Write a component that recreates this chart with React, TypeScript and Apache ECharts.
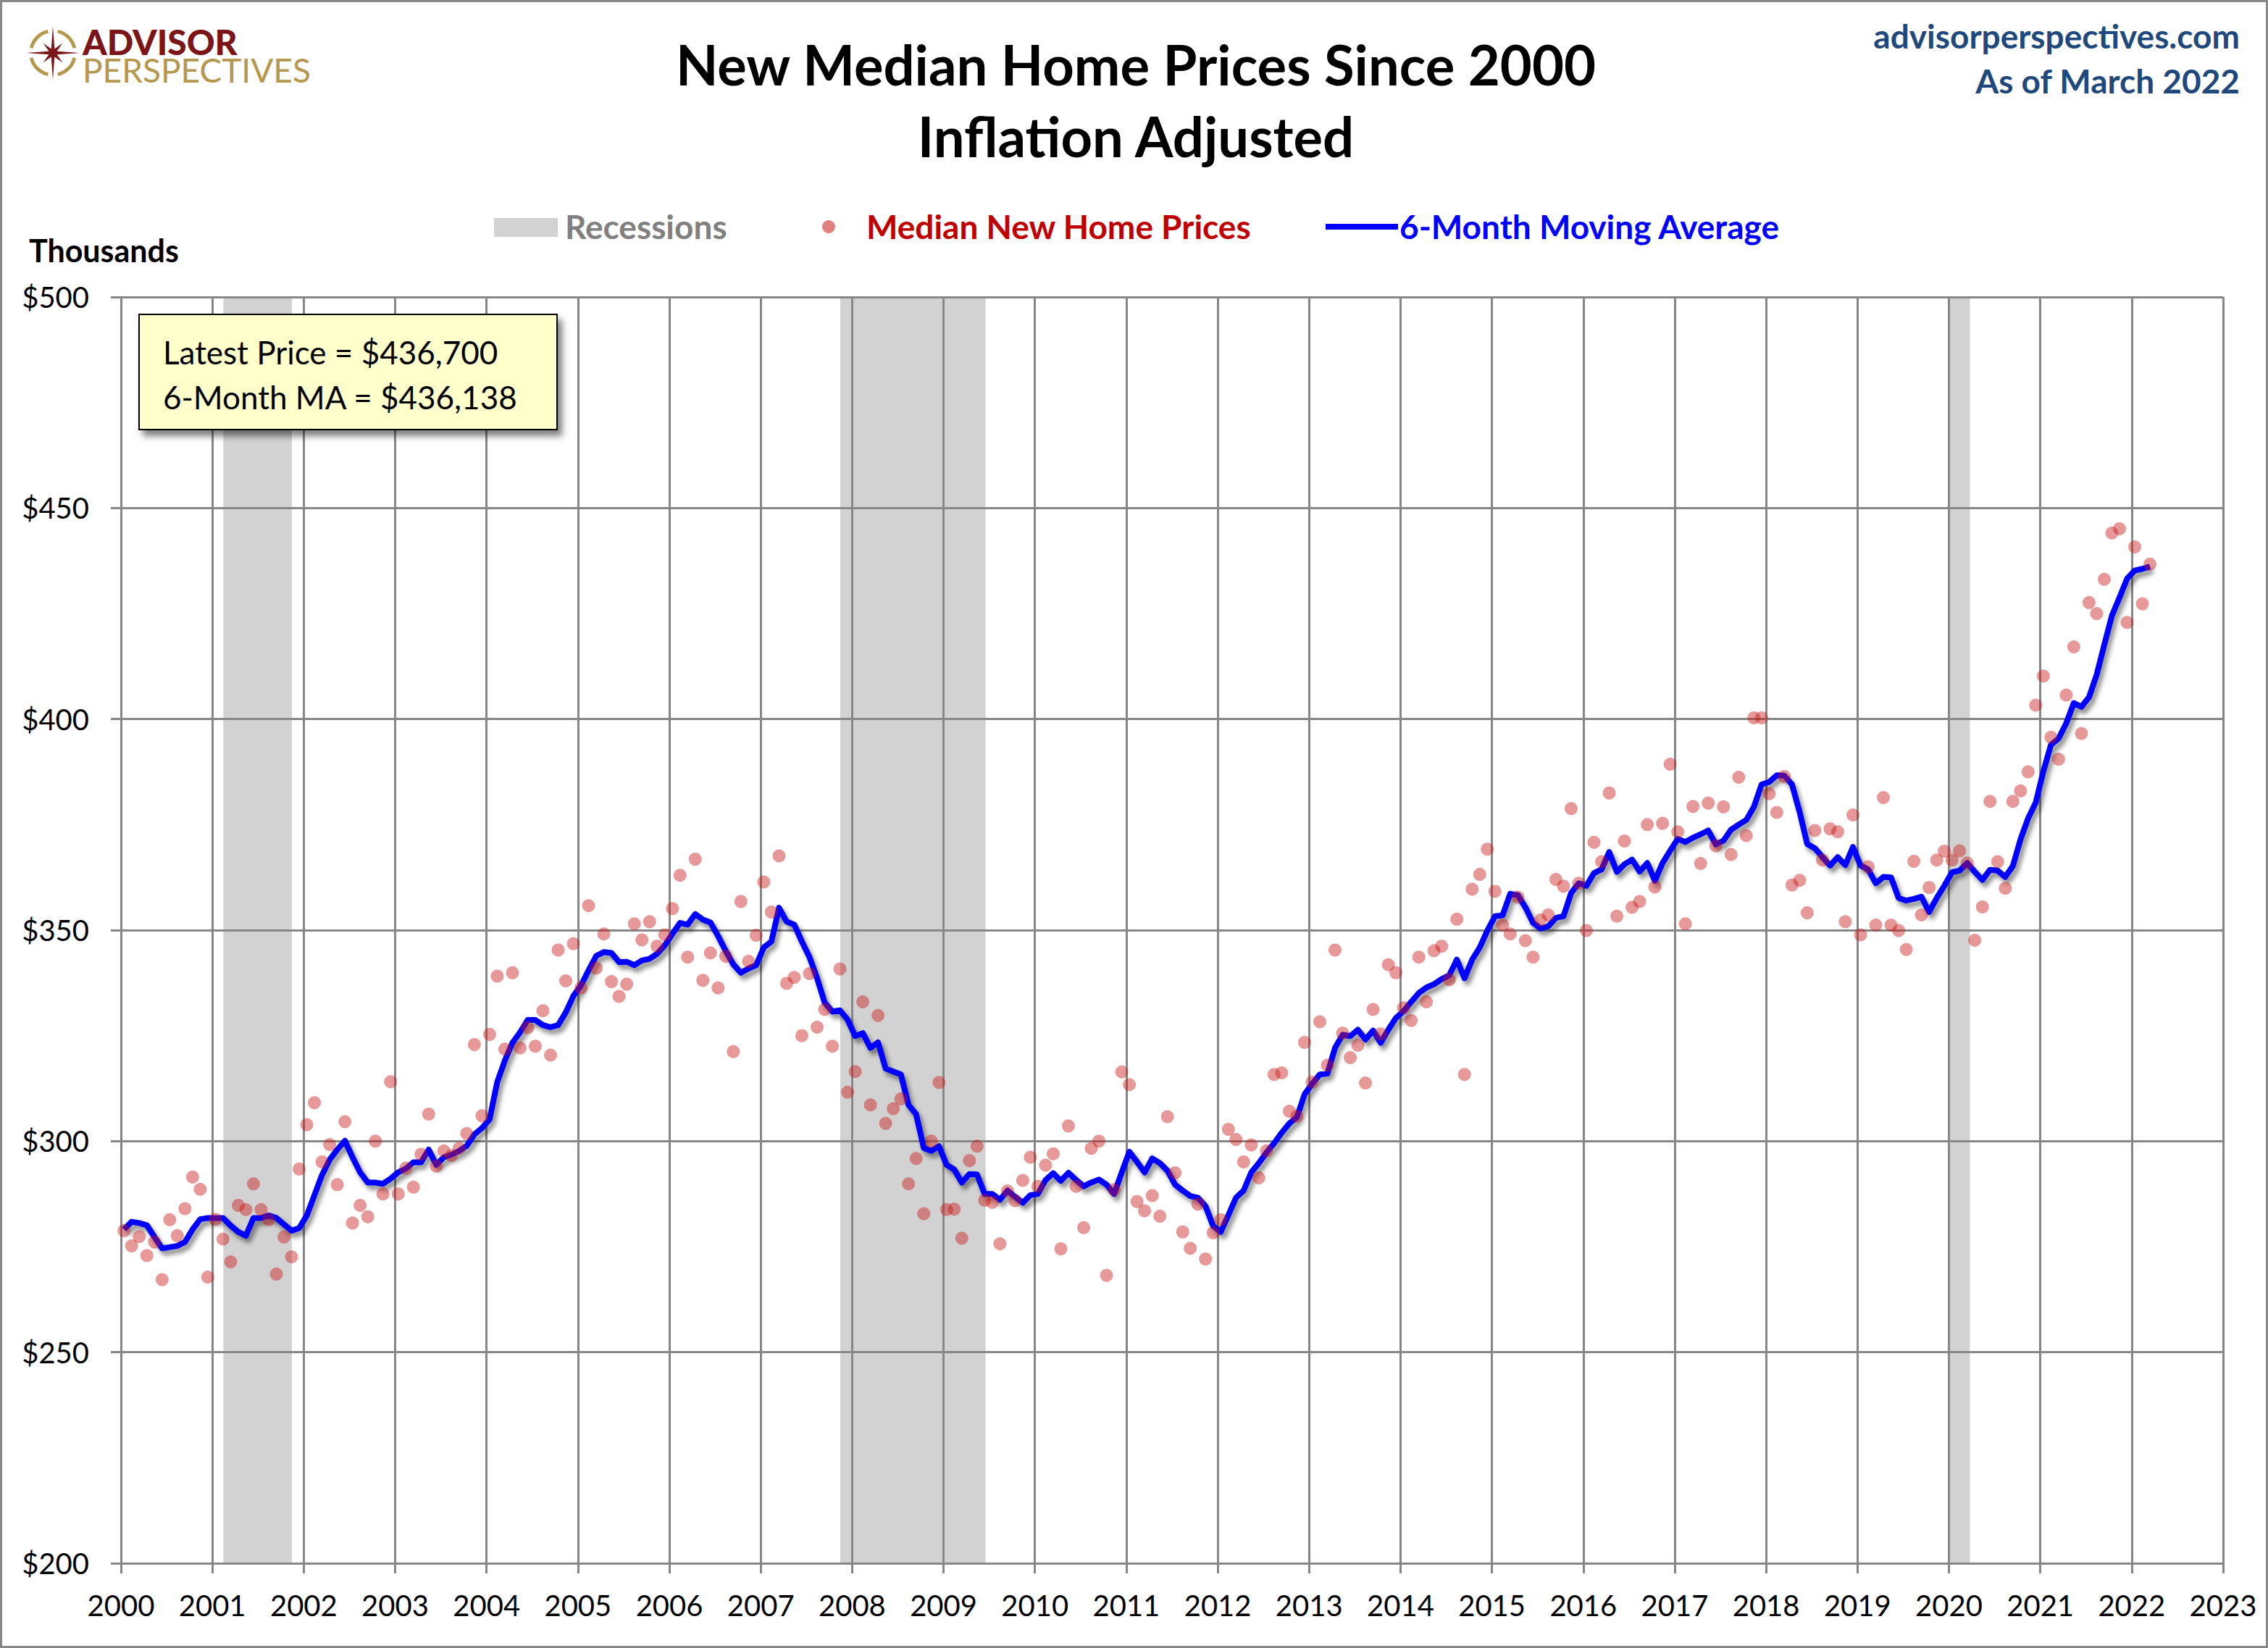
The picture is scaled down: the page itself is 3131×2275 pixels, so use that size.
import React, { useEffect, useRef } from 'react'
import * as echarts from 'echarts'

// monthly series, Jan 2000 .. Mar 2022, thousands of dollars (inflation adjusted)
const startYear = 2000

const medianPrice = [
  278.8, 275.2, 277.4, 272.9, 276.1, 267.2, 281.4, 277.6, 284.0, 291.5, 288.6, 267.8, // 2000
  281.5, 276.8, 271.4, 284.8, 283.8, 289.9, 283.8, 281.4, 268.5, 277.3, 272.6, 293.4, // 2001
  303.9, 309.1, 295.1, 299.2, 289.7, 304.6, 280.6, 284.8, 282.1, 300.0, 287.5, 314.1, // 2002
  287.5, 293.6, 289.1, 296.9, 306.4, 294.1, 297.7, 296.6, 298.3, 301.8, 322.9, 306.0, // 2003
  325.3, 339.1, 321.8, 339.9, 322.1, 326.9, 322.5, 330.9, 320.4, 345.3, 338.0, 346.8, // 2004
  336.3, 355.8, 341.0, 349.1, 337.8, 334.3, 337.2, 351.5, 347.7, 352.0, 346.2, 348.9, // 2005
  355.1, 363.0, 343.6, 366.8, 338.1, 344.6, 336.3, 343.8, 321.2, 356.8, 342.6, 348.8, // 2006
  361.4, 354.3, 367.6, 337.4, 338.8, 325.0, 339.7, 327.0, 331.2, 322.5, 340.8, 311.6, // 2007
  316.5, 333.0, 308.6, 329.8, 304.2, 307.7, 310.0, 289.9, 295.9, 282.8, 300.0, 313.9, // 2008
  283.8, 283.9, 277.0, 295.4, 298.8, 286.0, 285.5, 275.7, 288.2, 285.9, 290.7, 296.2, // 2009
  289.3, 294.3, 297.0, 274.5, 303.6, 289.3, 279.5, 298.3, 300.0, 268.2, 288.5, 316.4, // 2010
  313.4, 285.7, 283.5, 287.1, 282.2, 305.8, 292.5, 278.5, 274.6, 285.1, 272.1, 278.3, // 2011
  281.4, 302.8, 300.4, 295.1, 299.1, 291.3, 297.7, 315.8, 316.2, 307.1, 305.9, 323.4, // 2012
  314.0, 328.3, 318.0, 345.3, 325.6, 319.8, 322.7, 313.8, 331.2, 325.4, 341.8, 339.9, // 2013
  331.6, 328.6, 343.6, 333.0, 345.1, 346.2, 338.3, 352.6, 315.8, 359.7, 363.2, 369.2, // 2014
  359.2, 351.2, 349.1, 357.8, 347.5, 343.6, 352.4, 353.6, 362.0, 360.4, 378.8, 361.1, // 2015
  349.9, 370.8, 366.2, 382.5, 353.3, 371.1, 355.4, 356.8, 375.0, 360.2, 375.3, 389.3, // 2016
  373.3, 351.5, 379.3, 365.8, 380.1, 370.0, 379.2, 367.9, 386.2, 372.4, 400.3, 400.3, // 2017
  382.3, 377.9, 386.4, 360.7, 361.8, 354.1, 373.6, 366.6, 374.0, 373.3, 352.0, 377.3, // 2018
  348.9, 365.0, 351.2, 381.4, 351.2, 349.9, 345.4, 366.3, 353.6, 360.1, 366.6, 368.7, // 2019
  366.6, 368.8, 365.9, 347.6, 355.5, 380.5, 366.2, 359.9, 380.5, 383.0, 387.5, 403.3, // 2020
  410.2, 395.7, 390.5, 405.7, 417.1, 396.6, 427.6, 425.0, 433.1, 444.1, 445.1, 422.9, // 2021
  440.8, 427.3, 436.7, // 2022
]

const movingAverage = [
  279.1, 280.9, 280.6, 280.1, 277.3, 274.6, 274.9, 275.2, 276.1, 279.1, 281.5, 281.8, // 2000
  281.8, 281.8, 280.0, 278.5, 277.6, 281.8, 281.8, 282.4, 281.8, 280.3, 278.8, 279.4, // 2001
  282.4, 287.2, 292.0, 295.6, 298.0, 300.1, 296.2, 292.6, 290.2, 290.2, 289.9, 291.1, // 2002
  292.6, 293.5, 295.0, 295.0, 298.0, 294.4, 296.2, 296.8, 297.7, 298.9, 301.6, 303.1, // 2003
  305.2, 314.0, 319.1, 323.3, 325.8, 328.7, 328.7, 327.5, 327.0, 327.5, 330.5, 334.4, // 2004
  336.9, 340.5, 343.9, 344.8, 344.6, 342.4, 342.5, 341.7, 342.8, 343.2, 344.4, 346.4, // 2005
  349.1, 351.7, 351.3, 353.8, 352.5, 351.8, 348.6, 345.1, 341.9, 339.9, 340.9, 341.7, // 2006
  345.9, 347.3, 355.3, 352.0, 351.3, 347.3, 343.6, 338.6, 332.8, 330.7, 331.0, 328.8, // 2007
  324.9, 325.6, 322.1, 323.4, 317.2, 316.5, 315.8, 308.6, 306.4, 298.4, 297.7, 298.8, // 2008
  294.4, 293.3, 290.2, 292.2, 292.1, 287.5, 287.5, 286.1, 288.3, 286.8, 285.4, 287.2, // 2009
  287.5, 290.8, 292.4, 290.6, 292.5, 290.8, 289.3, 290.2, 290.9, 289.7, 287.5, 292.6, // 2010
  297.5, 295.1, 292.6, 295.9, 294.8, 293.0, 289.7, 288.3, 287.0, 286.6, 284.6, 279.9, // 2011
  278.5, 282.5, 286.6, 288.3, 292.6, 294.8, 297.3, 299.5, 302.0, 304.2, 305.7, 311.1, // 2012
  313.6, 315.8, 316.0, 322.1, 325.2, 324.9, 326.4, 324.1, 326.2, 323.3, 326.4, 329.2, // 2013
  330.8, 333.0, 335.1, 336.4, 337.2, 338.4, 339.3, 343.0, 338.6, 343.0, 345.9, 349.9, // 2014
  353.3, 353.5, 358.6, 358.3, 355.4, 351.7, 350.4, 350.9, 352.9, 353.3, 358.8, 361.1, // 2015
  360.5, 363.5, 364.4, 368.5, 363.8, 365.6, 366.7, 363.9, 365.9, 361.7, 365.9, 368.8, // 2016
  371.6, 370.9, 371.9, 372.7, 373.6, 370.3, 371.2, 373.8, 375.0, 376.1, 379.2, 384.5, // 2017
  385.1, 386.7, 386.6, 384.5, 378.0, 370.4, 369.4, 367.3, 365.3, 367.3, 365.4, 369.7, // 2018
  365.3, 364.4, 361.1, 362.6, 362.5, 357.6, 357.0, 357.4, 357.9, 354.3, 357.6, 360.5, // 2019
  363.7, 364.1, 365.9, 363.8, 361.9, 364.3, 364.1, 362.6, 365.2, 371.5, 376.5, 380.2, // 2020
  387.6, 393.9, 395.4, 399.0, 403.8, 402.9, 405.2, 410.5, 417.6, 424.5, 428.8, 433.3, // 2021
  435.2, 435.6, 436.138, // 2022
]

// recession spans in decimal years
const recessions = [
  [2001.12, 2001.87],
  [2007.87, 2009.46],
  [2020.0, 2020.23],
]

const GRID_COLOR = '#878787'
const DOT_COLOR = 'rgba(200, 20, 20, 0.55)'
const FONT = 'Lato'

// month i -> position on the year axis
const monthX = (i: number) => startYear + (i + 0.4) / 12

const fmtDollars = (k: number) => '$' + Math.round(k * 1000).toLocaleString('en-US')

const txt = (text: string, x: number, y: number, font: string, fill: string, align = 'left') => ({
  type: 'text',
  x,
  y,
  z: 20,
  silent: true,
  style: { text, font, fill, textAlign: align, textVerticalAlign: 'middle' },
})

const App = () => {
  const chartRef = useRef<HTMLDivElement>(null)

  useEffect(() => {
    if (!chartRef.current) return
    const chart = echarts.init(chartRef.current, null, { renderer: 'svg' })

    // compass star of the logo
    const star: number[][] = []
    for (let k = 0; k < 16; k++) {
      const a = (k * Math.PI) / 8 - Math.PI / 2
      const r = k % 4 === 0 ? 37 : k % 2 === 0 ? 19 : 6
      star.push([73 + r * Math.cos(a), 73 + r * Math.sin(a)])
    }
    const ringArcs = [0, 1, 2, 3].map((q) => ({
      type: 'arc',
      z: 20,
      silent: true,
      shape: {
        cx: 73,
        cy: 73,
        r: 30.5,
        startAngle: (q * Math.PI) / 2 + 0.22,
        endAngle: ((q + 1) * Math.PI) / 2 - 0.22,
      },
      style: { stroke: '#B5974D', lineWidth: 4.8, fill: 'none' },
    }))

    const latest = medianPrice[medianPrice.length - 1]
    const latestMA = movingAverage[movingAverage.length - 1]

    const option = {
      animation: false,
      backgroundColor: '#ffffff',
      textStyle: { fontFamily: FONT },
      grid: { left: 167, top: 410, width: 2902, height: 1748, containLabel: false },
      xAxis: {
        type: 'value',
        min: 2000,
        max: 2023,
        interval: 1,
        z: 2,
        axisLine: { show: true, onZero: false, lineStyle: { color: GRID_COLOR, width: 3 } },
        axisTick: { show: true, length: 14, lineStyle: { color: GRID_COLOR, width: 3 } },
        axisLabel: {
          margin: 38,
          fontSize: 40,
          fontFamily: FONT,
          color: '#000',
          formatter: (v: number) => String(v),
        },
        splitLine: { show: true, lineStyle: { color: GRID_COLOR, width: 3 } },
      },
      yAxis: {
        type: 'value',
        min: 200,
        max: 500,
        interval: 50,
        z: 2,
        axisLine: { show: true, onZero: false, lineStyle: { color: GRID_COLOR, width: 3 } },
        axisTick: { show: true, length: 14, lineStyle: { color: GRID_COLOR, width: 3 } },
        axisLabel: {
          margin: 44,
          fontSize: 40,
          fontFamily: FONT,
          color: '#000',
          formatter: (v: number) => '$' + v,
        },
        splitLine: { show: true, lineStyle: { color: GRID_COLOR, width: 3 } },
      },
      series: [
        {
          name: 'Recessions',
          type: 'line',
          data: [],
          z: 1,
          markArea: {
            silent: true,
            itemStyle: { color: '#D2D2D2' },
            data: recessions.map(([a, b]) => [{ xAxis: a }, { xAxis: b }]),
          },
        },
        {
          name: '6-Month Moving Average',
          type: 'line',
          z: 3,
          showSymbol: false,
          symbol: 'none',
          data: movingAverage.map((v, i) => [monthX(i), v]),
          lineStyle: {
            color: '#0000FF',
            width: 8,
            join: 'round',
            shadowColor: 'rgba(0,0,0,0.45)',
            shadowBlur: 6,
            shadowOffsetX: 4,
            shadowOffsetY: 6,
          },
        },
        {
          name: 'Median New Home Prices',
          type: 'scatter',
          z: 4,
          symbolSize: 18,
          data: medianPrice.map((v, i) => [monthX(i), v]),
          itemStyle: { color: DOT_COLOR },
        },
      ],
      graphic: [
        {
          type: 'rect',
          z: 30,
          silent: true,
          shape: { x: 1.5, y: 1.5, width: 3128, height: 2272 },
          style: { fill: 'none', stroke: '#888888', lineWidth: 3 },
        },
        // logo
        ...ringArcs,
        { type: 'polygon', z: 21, silent: true, shape: { points: star }, style: { fill: '#7B1517' } },
        {
          type: 'text',
          x: 114,
          y: 77,
          z: 20,
          silent: true,
          style: {
            text: '{a|ADVISOR}\n{p|PERSPECTIVES}',
            textVerticalAlign: 'middle',
            rich: {
              a: { font: '900 48px Lato', fill: '#7B1517', lineHeight: 39 },
              p: { font: '400 46px Lato', fill: '#B5974D', lineHeight: 39 },
            },
          },
        },
        // titles
        txt('New Median Home Prices Since 2000', 1568, 88, 'bold 76px Lato', '#000', 'center'),
        txt('Inflation Adjusted', 1568, 187, 'bold 76px Lato', '#000', 'center'),
        txt('advisorperspectives.com', 3092, 49, 'bold 46px Lato', '#1F497D', 'right'),
        txt('As of March 2022', 3092, 111, 'bold 46px Lato', '#1F497D', 'right'),
        // legend
        {
          type: 'rect',
          z: 20,
          silent: true,
          shape: { x: 682, y: 301, width: 88, height: 26 },
          style: { fill: '#D2D2D2' },
        },
        txt('Recessions', 780, 312, 'bold 46px Lato', '#808080'),
        { type: 'circle', z: 20, silent: true, shape: { cx: 1144, cy: 313, r: 9 }, style: { fill: DOT_COLOR } },
        txt('Median New Home Prices', 1196, 312, 'bold 46px Lato', '#C00000'),
        {
          type: 'line',
          z: 20,
          silent: true,
          shape: { x1: 1830, y1: 313, x2: 1930, y2: 313 },
          style: { stroke: '#0000FF', lineWidth: 8 },
        },
        txt('6-Month Moving Average', 1932, 312, 'bold 46px Lato', '#0000FF'),
        txt('Thousands', 40, 345, 'bold 43px Lato', '#000'),
        // latest values box
        {
          type: 'rect',
          z: 20,
          silent: true,
          shape: { x: 192, y: 434, width: 577, height: 159 },
          style: {
            fill: '#FFFFCC',
            stroke: '#000',
            lineWidth: 2,
            shadowColor: 'rgba(0,0,0,0.5)',
            shadowBlur: 10,
            shadowOffsetX: 6,
            shadowOffsetY: 8,
          },
        },
        txt('Latest Price = ' + fmtDollars(latest), 225, 486, '400 44px Lato', '#000'),
        txt('6-Month MA = ' + fmtDollars(latestMA), 225, 548, '400 44px Lato', '#000'),
      ],
    }

    try {
      chart.setOption(option as any)
    } catch (err) {
      console.error('Error setting chart options:', err)
    }

    return () => {
      chart.dispose()
    }
  }, [])

  return (
    <div
      ref={chartRef}
      style={{ position: 'absolute', left: 0, top: 0, width: '3131px', height: '2275px', background: '#fff' }}
    />
  )
}

export default App
